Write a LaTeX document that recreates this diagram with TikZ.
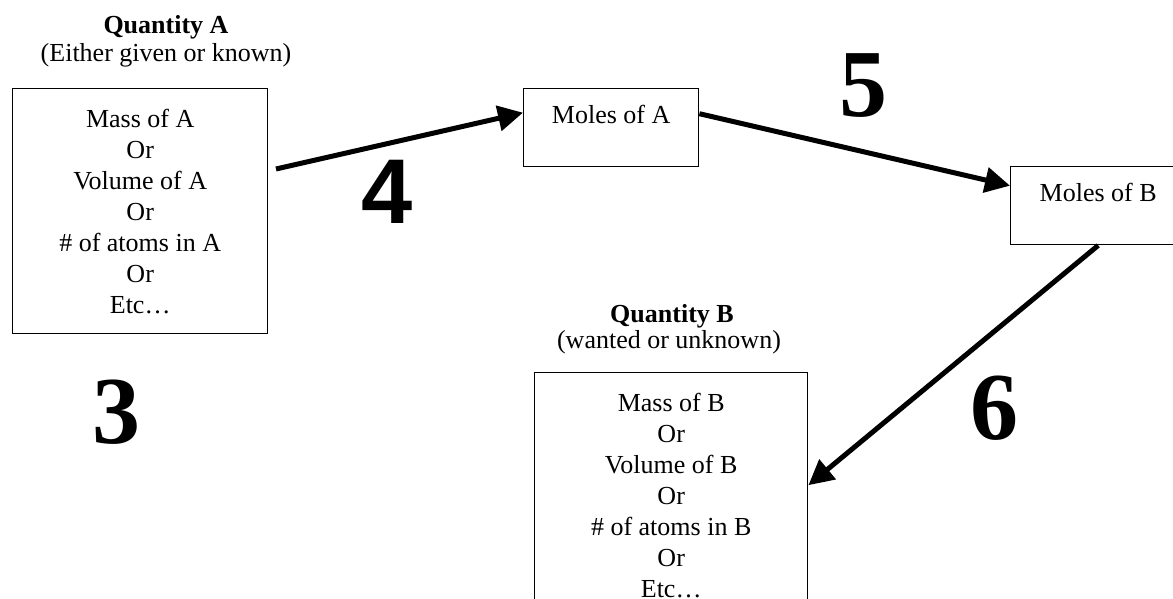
\documentclass[tikz,border=0pt]{standalone}
\usepackage{fontspec}
\setmainfont{Liberation Serif}
\newfontface\numfont{Liberation Sans Bold}
\usetikzlibrary{arrows.meta}

\begin{document}
\begin{tikzpicture}[x=.5pt, y=-.5pt,
		every node/.style={inner sep=0pt, font=\fontsize{13}{15.5}\selectfont},
		bigbox/.style={draw, line width=.7pt, anchor=north west, align=center, minimum height=122.5pt},
		molebox/.style={draw, line width=.7pt, anchor=north west, minimum width=87.5pt, text height=17.5pt, text depth=21.5pt},
		title/.style={anchor=base, font=\fontsize{13}{15.5}\selectfont\bfseries},
		note/.style={anchor=base},
		stepnum/.style={font=\fontsize{48}{48}\selectfont\bfseries},
		conv/.style={line width=2.5pt, -{Triangle[length=12.5pt,width=12.5pt]}}]
	\useasboundingbox (0,0) rectangle (1173,599);
	
	\node[title] at (166,34) (QA) {Quantity A};
	\node[note] at (166,62) (QAnote) {(Either given or known)};
	\node[bigbox, minimum width=127.5pt] at (12,88) (A) {Mass of A\\Or\\Volume of A\\Or\\\# of atoms in A\\Or\\Etc\dots};
	
	\node[molebox] at (523,88) (MA) {Moles of A};
	\node[molebox] at (1010,166) (MB) {Moles of B};
	
	\node[title] at (672,322) (QB) {Quantity B};
	\node[note] at (669,348) (QBnote) {(wanted or unknown)};
	\node[bigbox, minimum width=136.5pt] at (534,372) (B) {Mass of B\\Or\\Volume of B\\Or\\\# of atoms in B\\Or\\Etc\dots};
	
	\node[stepnum] at (116,412) (S3) {3};
	\node[font=\fontsize{46}{46}\numfont] at (387,192) (S4) {4};
	\node[stepnum] at (863,86) (S5) {5};
	\node[stepnum] at (994,408) (S6) {6};
	
	\coordinate (start) at (276,169);
	\draw[conv] (start) -- ([yshift=7.5pt]MA.west);
	\draw[conv] ([yshift=7pt]MA.east) -- ([yshift=10pt]MB.west);
	\draw[conv] (MB.south) -- ([yshift=5pt]B.east);
\end{tikzpicture}
\end{document}
